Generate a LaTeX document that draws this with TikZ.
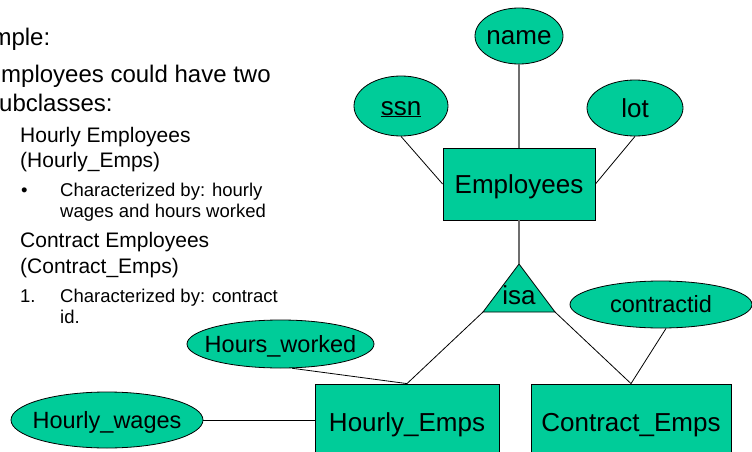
\documentclass[tikz,border=0pt]{standalone}
\usepackage{fontspec}
\setmainfont{Liberation Sans}
\usetikzlibrary{shapes.geometric}
\definecolor{ergreen}{RGB}{0,204,153}
\definecolor{linkgrey}{RGB}{110,110,110}
\begin{document}
\begin{tikzpicture}[x=1pt,y=-1pt,
  bigtxt/.style={font=\fontsize{26}{30}\selectfont, text height=23.5pt, text depth=5.5pt},
  smalltxt/.style={font=\fontsize{23.5}{28}\selectfont, text height=21.3pt, text depth=5pt},
  entity/.style={rectangle, draw=black, line width=0.8pt, fill=ergreen, inner sep=0pt, bigtxt},
  attrib/.style={ellipse, draw=black, line width=0.8pt, fill=ergreen, inner sep=0pt},
  link/.style={draw=black, line width=0.8pt},
  heavylink/.style={draw=linkgrey, line width=1.8pt},
  lvlone/.style={anchor=base west, inner sep=0pt, font=\fontsize{24}{28}\selectfont},
  lvltwo/.style={anchor=base west, inner sep=0pt, font=\fontsize{21}{25}\selectfont},
  lvlthree/.style={anchor=base west, inner sep=0pt, font=\fontsize{18.5}{22}\selectfont}
]
\useasboundingbox (0,0) rectangle (752,452);
\clip (0,0) rectangle (752,452);

% --- slide text ---
\node[lvlone] (t1) at (-50,46) {Example:};
\node[lvlone] (t2) at (-15,82) {Employees could have two};
\node[lvlone] (t3) at (-13,111) {subclasses:};
\node[lvltwo] (t4) at (20,142) {Hourly Employees};
\node[lvltwo] (t5) at (20,167) {(Hourly\_Emps)};
\node[lvlthree] (b1) at (21,196) {•};
\node[lvlthree] (t6) at (60,196) {Characterized by: hourly};
\node[lvlthree] (t7) at (60,217) {wages and hours worked};
\node[lvltwo] (t8) at (20,247) {Contract Employees};
\node[lvltwo] (t9) at (20,273) {(Contract\_Emps)};
\node[lvlthree] (b2) at (20,302) {1.};
\node[lvlthree] (t10) at (60,302) {Characterized by: contract};
\node[lvlthree] (t11) at (60,323) {id.};

% --- ER diagram: entity sets ---
\node[entity, minimum width=152pt, minimum height=72pt] (emp) at (519,184) {Employees};
\node[entity, minimum width=184pt, minimum height=76pt] (hourly) at (407,422) {Hourly\_Emps};
\node[entity, minimum width=200pt, minimum height=76pt] (contract) at (631,422) {Contract\_Emps};

% --- attributes ---
\node[attrib, bigtxt, minimum width=88pt, minimum height=56pt] (name) at (519,36) {\makebox[0pt]{name}};
\node[attrib, bigtxt, minimum width=94pt, minimum height=60pt] (ssn) at (401,106) {\makebox[0pt]{\underline{ssn}}};
\node[attrib, bigtxt, minimum width=96pt, minimum height=56pt] (lot) at (635,108) {\makebox[0pt]{lot}};
\node[attrib, smalltxt, minimum width=182pt, minimum height=47pt] (cid) at (661,304.5) {\makebox[0pt]{contractid}};
\node[attrib, smalltxt, minimum width=187pt, minimum height=48pt] (hw) at (280.5,344) {\makebox[0pt]{Hours\_worked}};
\node[attrib, smalltxt, minimum width=192pt, minimum height=56pt] (wage) at (107,420) {\makebox[0pt]{Hourly\_wages}};

% --- isa triangle ---
\coordinate (apex) at (519,264);
\coordinate (isal) at (483,312);
\coordinate (isar) at (555,312);
\filldraw[fill=ergreen, draw=black, line width=0.8pt] (apex) -- (isar) -- (isal) -- cycle;
\node[bigtxt, inner sep=0pt] (isa) at (519,295) {isa};

% --- connectors ---
\draw[heavylink] (name.south) -- (emp.north);
\draw[link] (ssn.south) -- (emp.west);
\draw[link] (lot.south) -- (emp.east);
\draw[heavylink] (emp.south) -- (apex);
\draw[link] (isal) -- (hourly.north);
\draw[link] (isar) -- (contract.north);
\draw[link] (hw.-65) -- (hourly.north);
\draw[link] (cid.-78) -- (contract.north);
\draw[link] (wage.east) -- (wage.east -| hourly.west);
\end{tikzpicture}
\end{document}
